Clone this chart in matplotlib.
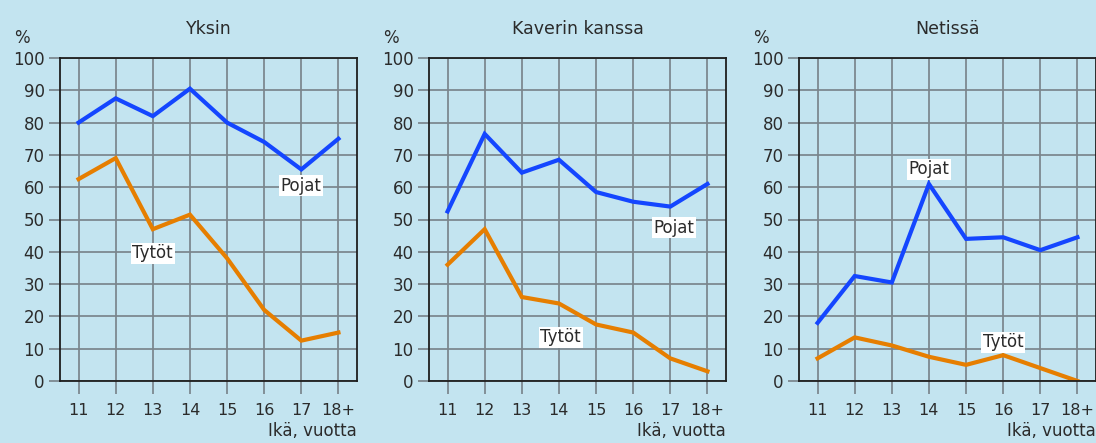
import matplotlib
matplotlib.use("Agg")
import matplotlib.pyplot as plt

ages = ["11", "12", "13", "14", "15", "16", "17", "18+"]
titles = ["Yksin", "Kaverin kanssa", "Netissä"]

yksin_pojat = [80, 87.5, 82, 90.5, 80, 74, 65.5, 75]
yksin_tytot = [62.5, 69, 47, 51.5, 38, 22, 12.5, 15]
kaveri_pojat = [52.5, 76.5, 64.5, 68.5, 58.5, 55.5, 54, 61]
kaveri_tytot = [36, 47, 26, 24, 17.5, 15, 7, 3]
netti_pojat = [18, 32.5, 30.5, 61, 44, 44.5, 40.5, 44.5]
netti_tytot = [7, 13.5, 11, 7.5, 5, 8, 4, 0]

# label positions (x index, y value)
pojat_label_pos = [(6, 60.5), (6.1, 47.5), (3, 65.5)]
tytot_label_pos = [(2, 39.5), (3.05, 13.5), (5, 12)]

pojat = [yksin_pojat, kaveri_pojat, netti_pojat]
tytot = [yksin_tytot, kaveri_tytot, netti_tytot]

BG = "#c3e4f0"
BLUE = "#1446ff"
ORANGE = "#e67e00"
GRID = "#7a858c"
TXT = "#2b2b2b"

plt.rcParams["font.family"] = ["DejaVu Sans"]

fig = plt.figure(figsize=(10.96, 4.43), dpi=100, facecolor=BG)
W, H = 1096, 443
lefts = [60, 429, 799]
width = 297
bottom_px, top_px = 381, 58

for i in range(3):
    ax = fig.add_axes([lefts[i] / W, 1 - bottom_px / H, width / W, (bottom_px - top_px) / H])
    ax.set_facecolor(BG)
    x = list(range(len(ages)))
    ax.plot(x, pojat[i], color=BLUE, lw=3, solid_joinstyle="miter", zorder=3)
    ax.plot(x, tytot[i], color=ORANGE, lw=3, solid_joinstyle="miter", zorder=3)
    ax.set_xlim(-0.5, 7.5)
    ax.set_ylim(0, 100)
    ax.set_xticks(x)
    ax.set_xticklabels(ages)
    ax.set_yticks(range(0, 101, 10))
    ax.grid(True, color=GRID, lw=1.25, zorder=1)
    ax.tick_params(axis="x", length=9, width=1.25, color=GRID, labelsize=11.5,
                   labelcolor=TXT, pad=7)
    ax.tick_params(axis="y", length=8, width=1.25, color=GRID, labelsize=12,
                   labelcolor=TXT, pad=3)
    for s in ax.spines.values():
        s.set_color("#1e1e1e")
        s.set_linewidth(1.3)
        s.set_zorder(4)
    ax.set_title(titles[i], fontsize=12.5, color=TXT, pad=17)
    ax.text(-0.155, 1.035, "%", transform=ax.transAxes, fontsize=12, color=TXT,
            ha="left", va="bottom")
    ax.text(1.0, -0.184, "Ikä, vuotta", transform=ax.transAxes, fontsize=12,
            color=TXT, ha="right", va="bottom")
    px, py = pojat_label_pos[i]
    ax.text(px, py, "Pojat", fontsize=12, color=TXT, ha="center", va="center",
            zorder=5, bbox=dict(facecolor="white", edgecolor="none", pad=1.2))
    tx, ty = tytot_label_pos[i]
    ax.text(tx, ty, "Tytöt", fontsize=12, color=TXT, ha="center", va="center",
            zorder=5, bbox=dict(facecolor="white", edgecolor="none", pad=1.2))

fig.savefig("out.png", dpi=100, facecolor=BG)
